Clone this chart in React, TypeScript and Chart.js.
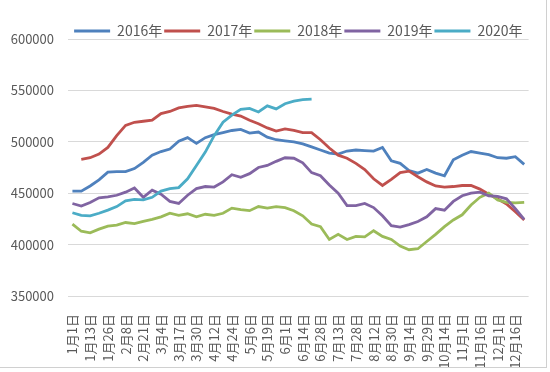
import React, { useEffect, useRef } from "react";
import { Chart, registerables } from "chart.js";

Chart.register(...registerables);

const tickDates = [
  "1月1日", "1月13日", "1月26日", "2月8日", "2月21日", "3月4日", "3月17日", "3月30日",
  "4月12日", "4月24日", "5月6日", "5月19日", "6月1日", "6月14日", "6月28日", "7月13日",
  "7月28日", "8月12日", "8月30日", "9月14日", "9月29日", "10月14日", "11月1日", "11月16日",
  "12月1日", "12月16日",
];

const series2016 = [
  452000, 452000, 457000, 463000, 470500, 471000, 471000, 474000, 480000, 487000,
  490500, 493000, 500500, 504000, 498500, 504000, 507000, 509000, 511000, 512000,
  508500, 509500, 504500, 502000, 501000, 500000, 498000, 495000, 492000, 489000,
  488000, 491000, 492000, 491500, 491000, 494500, 481500, 479000, 472000, 469500,
  473000, 469500, 467000, 482500, 487000, 490500, 489000, 487500, 484500, 484000,
  485500, 478000,
];

const series2017 = [
  null, 483000, 484500, 488000, 494500, 506000, 516000, 519000, 520000, 521000,
  527500, 529500, 533000, 534500, 535500, 534000, 532500, 529500, 527000, 525000,
  521000, 517500, 513500, 510500, 512500, 511000, 509000, 509000, 502000, 494000,
  487000, 484000, 479000, 473000, 464000, 457500, 463500, 470000, 471500, 466000,
  461000, 457000, 456000, 456500, 457500, 457500, 454000, 449000, 444500, 439500,
  432000, 424000,
];

const series2018 = [
  420000, 413000, 411500, 415000, 418000, 419000, 421500, 420500, 422500, 424500,
  427000, 430500, 428500, 430000, 427000, 429500, 428500, 430500, 435500, 434000,
  433000, 437000, 435500, 437000, 436000, 433000, 428000, 420000, 417500, 405000,
  410000, 405000, 408000, 407500, 413500, 408000, 405000, 398500, 395000, 396000,
  403000, 410000, 417500, 424000, 429000, 438500, 446000, 450000, 443500, 441000,
  440500, 441000,
];

const series2019 = [
  440000, 437500, 441000, 445500, 446500, 448000, 451000, 455000, 446000, 453000,
  449000, 442000, 440000, 448000, 454500, 456500, 456000, 461000, 468000, 465500,
  469000, 475000, 477000, 481000, 484500, 484000, 479500, 470000, 467000, 458000,
  450000, 438000, 438000, 440000, 436000, 428000, 418500, 417000, 419500, 422500,
  427000, 435000, 433500, 442000, 447500, 450000, 451000, 447500, 447000, 444500,
  435000, 424500,
];

const series2020 = [
  431000, 428500, 428000, 430500, 433500, 437000, 442500, 444000, 443500, 446000,
  452000, 454500, 455500, 464000, 477000, 490000, 506000, 519000, 526000, 531500,
  532500, 529000, 535000, 532000, 537000, 539500, 541000, 541500,
];

const seriesNames = ["2016年", "2017年", "2018年", "2019年", "2020年"];
const seriesColors = ["#4F81BD", "#C0504D", "#9BBB59", "#8064A2", "#4BACC6"];
const yMin = 350000;
const yMax = 600000;
const yStep = 50000;

const FONT = "'Noto Sans CJK SC', 'Noto Sans', sans-serif";
const TEXT = "#595959";

const legendShift = {
  id: "legendShift",
  afterLayout(chart: any) {
    const l = chart.legend;
    if (l) {
      l.top += 9;
      l.bottom += 9;
    }
  },
};

export default function App() {
  const ref = useRef<HTMLCanvasElement | null>(null);

  useEffect(() => {
    if (!ref.current) return;
    const categories: string[] = [];
    tickDates.forEach((d) => {
      categories.push(d);
      categories.push("");
    });
    const allSeries = [series2016, series2017, series2018, series2019, series2020];
    const chart = new Chart(ref.current, {
      type: "line",
      data: {
        labels: categories,
        datasets: allSeries.map((s, i) => ({
          label: seriesNames[i],
          data: s,
          borderColor: seriesColors[i],
          backgroundColor: seriesColors[i],
          borderWidth: 2.8,
          pointRadius: 0,
          tension: 0,
          fill: false,
          spanGaps: false,
          order: allSeries.length - i,
        })),
      },
      plugins: [legendShift],
      options: {
        animation: false,
        responsive: false,
        maintainAspectRatio: false,
        layout: { padding: { left: 8, right: 8, top: 13, bottom: 0 } },
        plugins: {
          tooltip: { enabled: false },
          legend: {
            position: "top",
            fullSize: false,
            labels: {
              boxWidth: 36,
              boxHeight: 3,
              padding: 2,
              color: TEXT,
              font: { size: 14, family: FONT, lineHeight: 1 },
              sort: (a: any, b: any) => a.datasetIndex - b.datasetIndex,
              generateLabels: (c: any) =>
                Chart.defaults.plugins.legend.labels
                  .generateLabels(c)
                  .map((l: any) => ({ ...l, fillStyle: l.strokeStyle, lineWidth: 0 })),
            },
          },
        },
        scales: {
          x: {
            type: "category",
            offset: true,
            afterFit: (s: any) => {
              s.height = 76;
            },
            grid: { display: false },
            border: { display: false },
            ticks: {
              autoSkip: false,
              maxRotation: 90,
              minRotation: 90,
              color: TEXT,
              padding: 10,
              font: { size: 13, family: FONT },
            },
          },
          y: {
            min: yMin,
            max: yMax,
            afterFit: (s: any) => {
              s.width = 60;
            },
            grid: { color: "#d9d9d9", drawTicks: false, lineWidth: 1 },
            border: { display: false },
            ticks: {
              stepSize: yStep,
              padding: 14,
              color: TEXT,
              font: { size: 13, family: FONT, lineHeight: 0.5 },
              callback: (v: any) => String(v),
            },
          },
        },
      },
    });
    return () => chart.destroy();
  }, []);

  return (
    <div style={{ position: "fixed", left: 0, top: 0, width: 550, height: 372, background: "#fff" }}>
      <canvas ref={ref} width={550} height={372} style={{ display: "block" }} />
      <div
        style={{
          position: "absolute",
          left: 0,
          top: 0,
          width: 546,
          height: 367,
          borderRight: "1px solid #d0d0d0",
          borderBottom: "1px solid #d0d0d0",
          pointerEvents: "none",
        }}
      />
    </div>
  );
}
